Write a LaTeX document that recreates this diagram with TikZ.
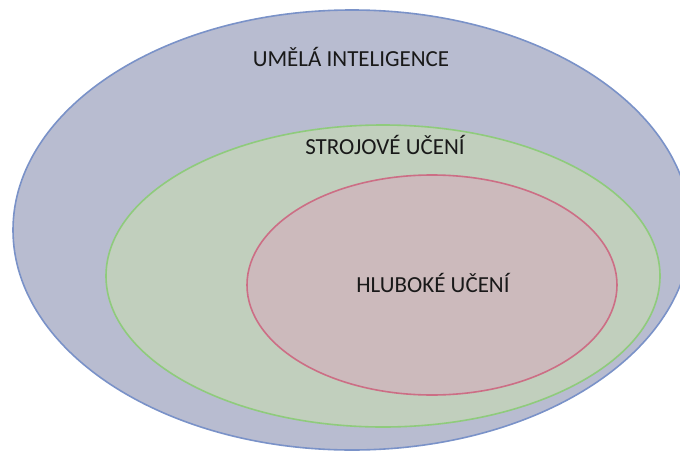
\documentclass[tikz,border=0pt]{standalone}
\usepackage{fontspec}
\setmainfont{Carlito}
\definecolor{aifill}{RGB}{184,188,208}
\definecolor{ailine}{RGB}{122,146,200}
\definecolor{mlfill}{RGB}{193,207,189}
\definecolor{mlline}{RGB}{143,203,124}
\definecolor{dlfill}{RGB}{204,186,188}
\definecolor{dlline}{RGB}{204,110,133}
\tikzset{
  setshape/.style={line width=1.6pt},
  setlabel/.style={font=\fontsize{23}{26}\selectfont, text=black!90}
}
\begin{document}
\begin{tikzpicture}[x=1pt,y=-1pt]
  \useasboundingbox (0,0) rectangle (680,450);
  \clip (0,0) rectangle (680,450);
  % nested sets: AI > ML > DL
  \draw[setshape, fill=aifill, draw=ailine] (352,230) ellipse [x radius=339, y radius=220];
  \draw[setshape, fill=mlfill, draw=mlline] (383,276) ellipse [x radius=277, y radius=151];
  \draw[setshape, fill=dlfill, draw=dlline] (432,285) ellipse [x radius=185, y radius=110];
  \node[setlabel] (ai) at (351,57) {UMĚLÁ INTELIGENCE};
  \node[setlabel] (ml) at (385,145) {STROJOVÉ UČENÍ};
  \node[setlabel] (dl) at (433,283) {HLUBOKÉ UČENÍ};
\end{tikzpicture}
\end{document}
